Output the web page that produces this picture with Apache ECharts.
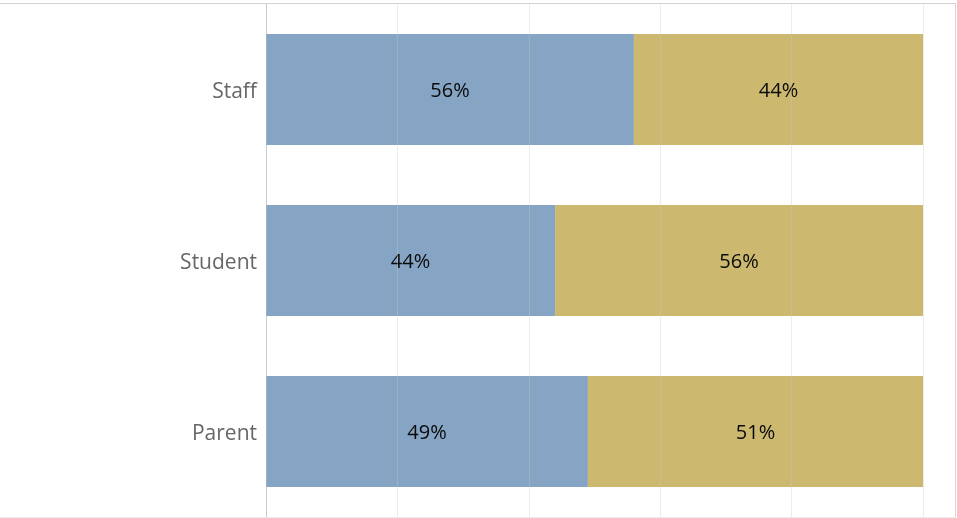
<!DOCTYPE html>
<html>
<head>
<meta charset="utf-8">
<script src="https://cdn.jsdelivr.net/npm/echarts@6/dist/echarts.min.js"></script>
<style>
  html, body { margin: 0; padding: 0; background: #fff; }
  #chart { width: 957px; height: 518px; }
</style>
</head>
<body>
<div id="chart"></div>
<script>
// Respondent groups, listed bottom to top on the category axis
const groups = ['Parent', 'Student', 'Staff'];
// Share of each group per answer (percent)
const shareBlue = [49, 44, 56];
const shareGold = [51, 56, 44];
const xTicks = [0, 20, 40, 60, 80, 100];

const chart = echarts.init(document.getElementById('chart'));

const FONT = 'Open Sans, Noto Sans, sans-serif';

const labelStyle = {
  show: true,
  position: 'inside',
  formatter: p => p.value + '%',
  color: '#0a0a0a',
  fontSize: 20,
  fontFamily: FONT,
  offset: [0, 2]
};

chart.setOption({
  animation: false,
  graphic: [
    { type: 'line', shape: { x1: 0, y1: 3.5, x2: 956, y2: 3.5 },
      style: { stroke: '#d2d2d2', lineWidth: 1 }, z: 100 },
    { type: 'line', shape: { x1: 955.5, y1: 3, x2: 955.5, y2: 518 },
      style: { stroke: '#d8d8d8', lineWidth: 1 }, z: 100 },
    { type: 'line', shape: { x1: 0, y1: 517.5, x2: 956, y2: 517.5 },
      style: { stroke: '#ececec', lineWidth: 1 }, z: 100 }
  ],
  grid: { left: 266, right: 34, top: 4, bottom: 1, containLabel: false },
  xAxis: {
    type: 'value',
    min: xTicks[0],
    max: xTicks[xTicks.length - 1],
    interval: 20,
    z: 5,
    axisLine: { show: false },
    axisTick: { show: false },
    axisLabel: { show: false },
    splitLine: { show: true, lineStyle: { color: 'rgba(200,200,200,0.35)', width: 1 } }
  },
  yAxis: {
    type: 'category',
    data: groups,
    axisLine: { show: true, lineStyle: { color: '#c8c8c8', width: 1 } },
    axisTick: { show: false },
    axisLabel: {
      margin: 9,
      formatter: v => '{g|' + v + '}',
      rich: {
        g: {
          color: '#666',
          fontSize: 21,
          fontFamily: FONT,
          lineHeight: 21,
          padding: [6, 0, 0, 0]
        }
      }
    },
    splitLine: { show: false }
  },
  series: [
    {
      name: 'A',
      type: 'bar',
      stack: 'share',
      data: shareBlue,
      barCategoryGap: '35%',
      itemStyle: { color: '#86a5c4' },
      label: labelStyle
    },
    {
      name: 'B',
      type: 'bar',
      stack: 'share',
      data: shareGold,
      barCategoryGap: '35%',
      itemStyle: { color: '#ccb86f' },
      label: labelStyle
    }
  ]
});
</script>
</body>
</html>
